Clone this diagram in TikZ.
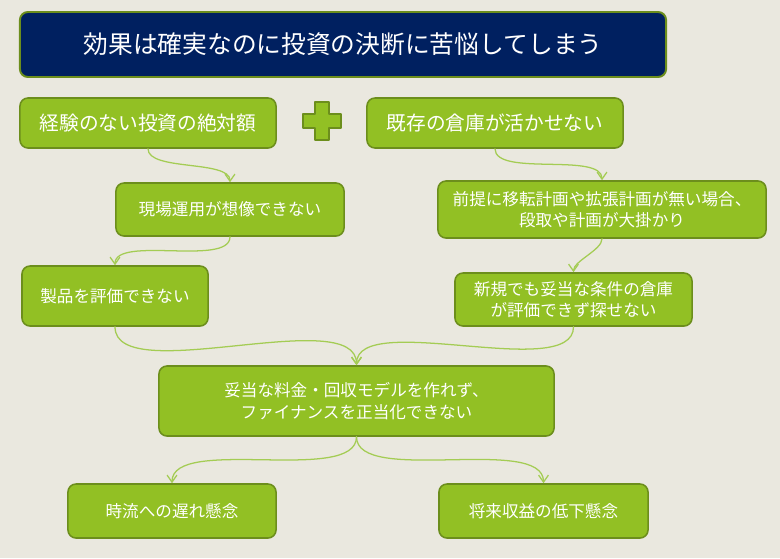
\documentclass[tikz,border=0pt]{standalone}
\usepackage{fontspec}
\setmainfont{Noto Sans CJK JP}
\usetikzlibrary{arrows.meta}

\begin{document}
\begin{tikzpicture}[x=0.025cm,y=0.025cm,line cap=round,line join=round,
  box/.style={draw=boxedge,fill=boxfill,line width=1.1pt,rounded corners=0.2cm,
    text=white,align=center,inner sep=0pt,font=\fontsize{11.8}{15.2}\selectfont},
  bigbox/.style={box,font=\fontsize{14}{17}\selectfont},
  link/.style={draw=linkcol,line width=0.9pt,-{Straight Barb[length=5pt,width=7pt]},
    out=-90,in=90,looseness=0.65}]
  \definecolor{bgcol}{RGB}{234,232,223}
  \definecolor{navy}{RGB}{0,32,96}
  \definecolor{boxfill}{RGB}{146,192,36}
  \definecolor{boxedge}{RGB}{108,142,28}
  \definecolor{linkcol}{RGB}{164,204,84}

  % ---- background ----
  \fill[bgcol] (0,0) rectangle (780,-558);
  \useasboundingbox (0,0) rectangle (780,-558);

  % ---- title ----
  \node[box,fill=navy,draw=boxedge,line width=1.4pt,minimum width=16.15cm,minimum height=1.625cm,
    font=\fontsize{17.6}{20}\selectfont] (title) at (343,-44.5) {効果は確実なのに投資の決断に苦悩してしまう};

  % ---- first row ----
  \node[bigbox,minimum width=6.4cm,minimum height=1.25cm] (absamt) at (148,-123) {経験のない投資の絶対額};
  \node[bigbox,minimum width=6.4cm,minimum height=1.25cm] (oldwh) at (495,-123) {既存の倉庫が活かせない};

  % plus sign
  \filldraw[fill=boxfill,draw=boxedge,line width=1pt]
    (315,-102) -- (329,-102) -- (329,-114) -- (341,-114) -- (341,-128) -- (329,-128)
    -- (329,-140) -- (315,-140) -- (315,-128) -- (303,-128) -- (303,-114) -- (315,-114) -- cycle;

  % ---- left branch ----
  \node[box,minimum width=5.7cm,minimum height=1.325cm] (siteop) at (230,-209.5) {現場運用が想像できない};
  \node[box,minimum width=4.65cm,minimum height=1.5cm] (evalprod) at (115,-296) {製品を評価できない};

  % ---- right branch ----
  \node[box,minimum width=8.2cm,minimum height=1.425cm] (bigplan) at (602,-209.5)
    {前提に移転計画や拡張計画が無い場合、\\段取や計画が大掛かり};
  \node[box,minimum width=5.925cm,minimum height=1.325cm] (nosearch) at (573.5,-299.5)
    {新規でも妥当な条件の倉庫\\が評価できず探せない};

  % ---- merge ----
  \node[box,minimum width=9.875cm,minimum height=1.75cm] (finance) at (356.5,-401)
    {妥当な料金・回収モデルを作れず、\\ファイナンスを正当化できない};

  % ---- concerns ----
  \node[box,minimum width=5.2cm,minimum height=1.35cm] (behind) at (172,-511) {時流への遅れ懸念};
  \node[box,minimum width=5.225cm,minimum height=1.35cm] (revenue) at (543.5,-511) {将来収益の低下懸念};

  % ---- links ----
  \draw[link] (absamt.south) to (siteop.north);
  \draw[link] (oldwh.south) to (bigplan.north);
  \draw[link] (siteop.south) to (evalprod.north);
  \draw[link] (bigplan.south) to (nosearch.north);
  \draw[link] (evalprod.south) to (finance.north);
  \draw[link] (nosearch.south) to (finance.north);
  \draw[link] (finance.south) to (behind.north);
  \draw[link] (finance.south) to (revenue.north);
\end{tikzpicture}
\end{document}
